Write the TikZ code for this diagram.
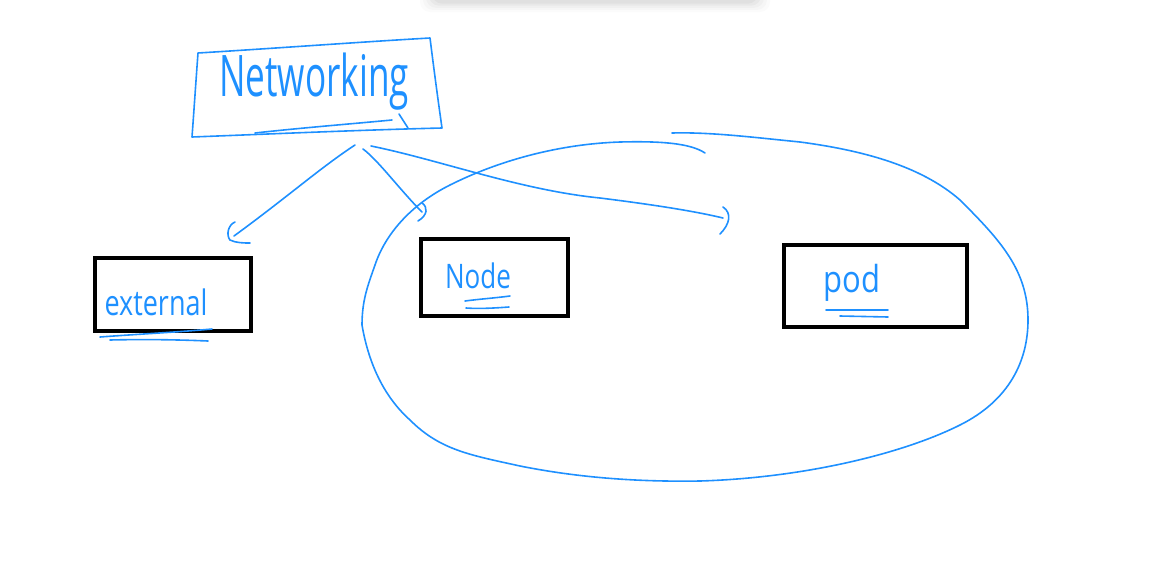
\documentclass[tikz,border=0pt]{standalone}
\usepackage{fontspec}
\setmainfont{Open Sans}
\begin{document}
\begin{tikzpicture}[x=1pt,y=-1pt,
  ink/.style={draw=inkblue,line width=1.6pt,line cap=round,line join=round},
  blackbox/.style={draw=black,line width=4.8pt,minimum width=#1,inner sep=0pt},
  lbl/.style={text=inkblue,inner sep=0pt}]
\definecolor{inkblue}{RGB}{30,144,255}
\useasboundingbox (0,0) rectangle (1174,560);
% faint shadow at top
\foreach \i/\o in {0/0.015,3/0.02,6/0.025,9/0.03,12/0.035}{
  \fill[black,opacity=\o,rounded corners=10pt] (420+\i,-20) rectangle (770-\i,12-\i*0.7);
}
% Networking sketch box
\node[lbl,font=\fontsize{37}{40}\selectfont] (net) at (314,82) {\scalebox{0.95}[1.55]{Networking}};
\draw[ink] (198,53) .. controls (280,48) and (360,42) .. (430,38)
  .. controls (434,70) and (438,100) .. (442,128)
  .. controls (360,130) and (270,134) .. (192,137)
  .. controls (194,110) and (196,80) .. (198,53);
\draw[ink] (255,133) .. controls (300,128) and (350,124) .. (392,120);
\draw[ink] (399,114) -- (408,128);
% boxes
\node[blackbox=156pt,minimum height=73pt] (ext) at (173,294.5) {};
\node[blackbox=147pt,minimum height=77pt] (nodeb) at (494.5,277.5) {};
\node[blackbox=183pt,minimum height=82pt] (pod) at (875.5,286) {};
\node[lbl,font=\fontsize{27}{30}\selectfont] (extt) at (156,302) {\scalebox{1}[1.3]{external}};
\node[lbl,font=\fontsize{26}{30}\selectfont] (nodet) at (478,276) {\scalebox{1}[1.3]{Node}};
\node[lbl,font=\fontsize{31}{34}\selectfont] (podt) at (852,283) {\scalebox{1}[1.2]{pod}};
% underlines
\draw[ink] (100,337) .. controls (140,334) and (180,332) .. (212,329);
\draw[ink] (110,340) .. controls (150,339) and (185,340) .. (208,341);
\draw[ink] (465,301) .. controls (480,299) and (495,298) .. (510,296);
\draw[ink] (466,308) .. controls (480,309) and (495,308) .. (509,307);
\draw[ink] (826,310) -- (888,310);
\draw[ink] (840,316) -- (888,317);
% arrows
\coordinate (s1) at (355,145);
\coordinate (e1) at (234,236);
\coordinate (s2) at (363,149);
\coordinate (e2) at (422,212);
\coordinate (s3) at (371,146);
\coordinate (e3) at (723,218);
\draw[ink] (s1) .. controls (320,168) and (290,195) .. (e1);
\draw[ink] (235,222) .. controls (228,225) and (226,235) .. (230,240) .. controls (236,243) and (244,243) .. (250,243);
\draw[ink] (s2) .. controls (378,160) and (400,190) .. (e2);
\draw[ink] (422,203) .. controls (428,207) and (428,215) .. (418,221);
\draw[ink] (s3) .. controls (440,160) and (520,190) .. (600,198) .. controls (640,203) and (690,210) .. (e3);
\draw[ink] (723,207) .. controls (732,213) and (730,224) .. (720,234);
% big loop
\draw[ink] (705,153) .. controls (690,143) and (660,141) .. (620,142)
  .. controls (560,144) and (500,160) .. (450,185)
  .. controls (410,205) and (385,235) .. (375,265)
  .. controls (368,285) and (362,300) .. (362,325)
  .. controls (368,360) and (382,395) .. (410,420)
  .. controls (440,450) and (470,455) .. (520,466)
  .. controls (580,478) and (640,482) .. (700,481)
  .. controls (800,478) and (900,455) .. (960,425)
  .. controls (1010,400) and (1028,360) .. (1028,320)
  .. controls (1028,270) and (1000,240) .. (960,200)
  .. controls (920,165) and (860,150) .. (800,142)
  .. controls (750,137) and (710,132) .. (672,133);
\end{tikzpicture}
\end{document}
